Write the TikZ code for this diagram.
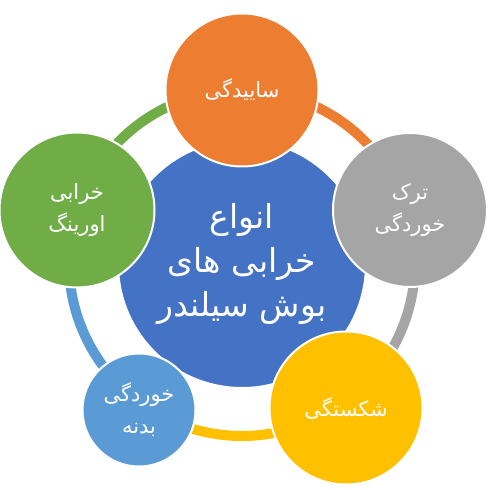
\documentclass[tikz,border=0pt]{standalone}
\usepackage{fontspec}
\newfontfamily\arabicfont[Script=Arabic]{DejaVu Sans}
\TeXXeTstate=1
\definecolor{cOrange}{HTML}{ED7D31}
\definecolor{cGray}{HTML}{A5A5A5}
\definecolor{cYellow}{HTML}{FFC000}
\definecolor{cLBlue}{HTML}{5B9BD5}
\definecolor{cGreen}{HTML}{70AD47}
\definecolor{cBlue}{HTML}{4472C4}
\begin{document}
\begin{tikzpicture}[x=1pt,y=1pt,
  ringseg/.style={line width=10pt},
  bubble/.style={circle, draw=white, line width=2pt, inner sep=0pt, text=white, align=center, font=\arabicfont\fontsize{21}{32}\selectfont},
  hub/.style={circle, draw=white, line width=2pt, inner sep=0pt, text=white, align=center, font=\arabicfont\fontsize{33}{44}\selectfont}]
\useasboundingbox (0,0) rectangle (502,489);
\coordinate (c) at (242,226);
% ring segments
\draw[ringseg, cOrange] (c) ++(90:173) arc[start angle=90, end angle=18, radius=173];
\draw[ringseg, cGray] (c) ++(18:173) arc[start angle=18, end angle=-54, radius=173];
\draw[ringseg, cYellow] (c) ++(-54:173) arc[start angle=-54, end angle=-126, radius=173];
\draw[ringseg, cLBlue] (c) ++(-126:173) arc[start angle=-126, end angle=-198, radius=173];
\draw[ringseg, cGreen] (c) ++(162:173) arc[start angle=162, end angle=90, radius=173];
% hub
\node[hub, fill=cBlue, minimum size=248pt] (hub) at (242,225)
  {\beginR انواع\endR\\\beginR خرابی های\endR\\\beginR بوش سیلندر\endR};
% outer bubbles
\node[bubble, fill=cOrange, minimum size=153pt] (abr) at (242,399) {\beginR ساییدگی\endR};
\node[bubble, fill=cGray, minimum size=154pt] (crack) at (410,279) {\beginR ترک\endR\\\beginR خوردگی\endR};
\node[bubble, fill=cYellow, minimum size=153pt] (brk) at (346,81) {\beginR شکستگی\endR};
\node[bubble, fill=cLBlue, minimum size=113pt] (corr) at (139,79) {\beginR خوردگی\endR\\\beginR بدنه\endR};
\node[bubble, fill=cGreen, minimum size=155pt] (oring) at (77,279) {\beginR خرابی\endR\\\beginR اورینگ\endR};
\end{tikzpicture}
\end{document}
